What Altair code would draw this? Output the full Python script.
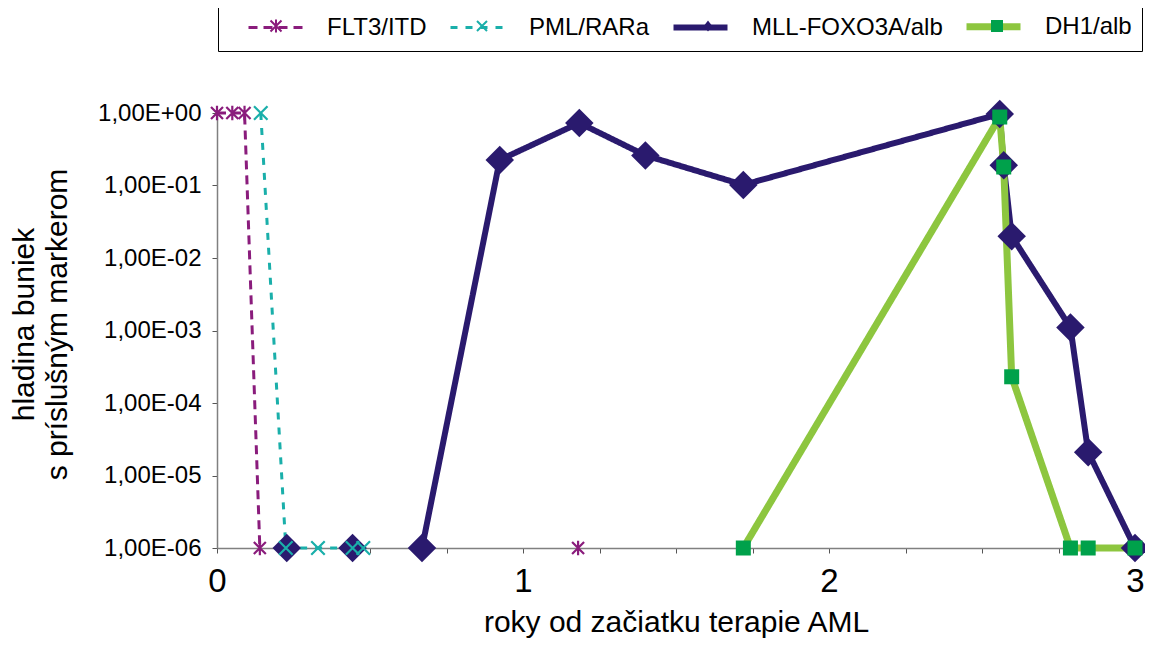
import altair as alt
import pandas as pd

series_names = ["FLT3/ITD", "PML/RARa", "MLL-FOXO3A/alb", "DH1/alb"]
line_colors = ["#8a1c7c", "#1aafaa", "#2a1a6e", "#8dc63f"]
marker_fill = ["transparent", "transparent", "#2a1a6e", "#00a14b"]
marker_stroke = ["#8a1c7c", "#1aafaa", "transparent", "transparent"]
marker_z = [3, 4, 1, 2]

# FLT3/ITD
flt3_x = [0.0, 0.05, 0.09, 0.14, 1.18]
flt3_y = [1.0, 1.0, 1.0, 1e-6, 1e-6]
flt3_seg = [0, 0, 0, 0, 1]

# PML/RARa
pml_x = [0.143, 0.225, 0.33, 0.443, 0.478]
pml_y = [1.0, 1e-6, 1e-6, 1e-6, 1e-6]
pml_seg = [0, 0, 0, 0, 0]

# MLL-FOXO3A/alb
mll_x = [0.228, 0.443, 0.67, 0.924, 1.184, 1.40, 1.72, 2.558, 2.571, 2.597, 2.789, 2.847, 3.0]
mll_y = [1e-6, 1e-6, 1e-6, 0.225, 0.73, 0.26, 0.102, 0.97, 0.19, 0.02, 1.1e-3, 2.1e-5, 1e-6]
mll_seg = [0, 1, 2, 2, 2, 2, 2, 2, 2, 2, 2, 2, 2]

# DH1/alb
dh1_x = [1.72, 2.558, 2.571, 2.597, 2.789, 2.847, 3.0]
dh1_y = [1e-6, 0.88, 0.18, 2.3e-4, 1e-6, 1e-6, 1e-6]
dh1_seg = [0, 0, 0, 0, 0, 0, 0]

y_ticks = [1e-6, 1e-5, 1e-4, 1e-3, 1e-2, 1e-1, 1.0]
x_ticks = [0, 0.25, 0.5, 0.75, 1, 1.25, 1.5, 1.75, 2, 2.25, 2.5, 2.75, 3]

rows = []
for i, (name, xs, ys, segs) in enumerate([
    (series_names[0], flt3_x, flt3_y, flt3_seg),
    (series_names[1], pml_x, pml_y, pml_seg),
    (series_names[2], mll_x, mll_y, mll_seg),
    (series_names[3], dh1_x, dh1_y, dh1_seg),
]):
    for xv, yv, sv in zip(xs, ys, segs):
        rows.append({"series": name, "marker": name,
                     "x": xv, "y": yv, "grp": f"{name}-{sv}", "z": marker_z[i]})
df = pd.DataFrame(rows)

FONT = "Liberation Sans"

x_enc = alt.X(
    "x:Q",
    scale=alt.Scale(domain=[0, 3], nice=False, zero=False),
    axis=alt.Axis(
        values=x_ticks,
        labelExpr="datum.value % 1 == 0 ? format(datum.value, 'd') : ''",
        labelFontSize=33,
        labelBaseline="alphabetic",
        labelPadding=38,
        labelFlush=False,
        labelOverlap=False,
        labelColor="black",
        tickSize=5,
        tickColor="#555555",
        domainColor="#808080",
        domainWidth=1.5,
        grid=False,
        title="roky od začiatku terapie AML",
        titleFontSize=30,
        titleFontWeight="normal",
        titleColor="black",
        titleX=459,
        titleY=83,
        titleAlign="center",
        titleBaseline="alphabetic",
    ),
)

y_enc = alt.Y(
    "y:Q",
    scale=alt.Scale(type="log", domain=[1e-6, 1], nice=False),
    axis=alt.Axis(
        values=y_ticks,
        labelExpr="datum.value >= 1 ? '1,00E+00' : '1,00E-0' + format(round(-log(datum.value) / LN10), 'd')",
        labelFontSize=24,
        labelPadding=11,
        labelOverlap=False,
        labelColor="black",
        tickSize=5,
        tickColor="#555555",
        domainColor="#808080",
        domainWidth=1.5,
        grid=False,
        title=["\u00a0" * 9 + "hladina buniek", "s príslušným markerom"],
        titleFontSize=30,
        titleFontWeight="normal",
        titleColor="black",
        titleX=-193,
        titleY=211,
        titleAngle=270,
        titleAlign="center",
        titleBaseline="middle",
        titleLineHeight=33,
    ),
)

line_legend = alt.Legend(
    title=None,
    orient="none",
    legendX=1,
    legendY=-109,
    direction="horizontal",
    columns=4,
    strokeColor="black",
    fillColor="white",
    padding=10,
    symbolOffset=35,
    symbolType="M-3,0L3,0",
    symbolSize=324,
    labelOffset=39,
    columnPadding=3,
    labelFontSize=24,
    labelLimit=400,
    labelColor="black",
)

lines = alt.Chart(df).mark_line(clip=False).encode(
    x=x_enc,
    y=y_enc,
    color=alt.Color(
        "series:N",
        scale=alt.Scale(domain=series_names, range=line_colors),
        legend=line_legend,
    ),
    strokeDash=alt.StrokeDash(
        "series:N",
        scale=alt.Scale(domain=series_names, range=[[9, 6], [7, 8], [1, 0], [1, 0]]),
        legend=line_legend,
    ),
    strokeWidth=alt.StrokeWidth(
        "series:N",
        scale=alt.Scale(type="ordinal", domain=series_names, range=[3, 3, 6, 7]),
        legend=line_legend,
    ),
    detail="grp:N",
)

# chart markers (size 900 -> path unit = 15 px)
asterisk = "M-0.4,-0.4L0.4,0.4M-0.4,0.4L0.4,-0.4M0,-0.48L0,0.48"
xshape = "M-0.45,-0.45L0.45,0.45M-0.45,0.45L0.45,-0.45"
diamond = "M0,-0.95L0.95,0L0,0.95L-0.95,0Z"
square = "M-0.5,-0.5L0.5,-0.5L0.5,0.5L-0.5,0.5Z"

markers = alt.Chart(df).mark_point(size=900, strokeWidth=2.2, opacity=1).encode(
    x=x_enc,
    y=y_enc,
    shape=alt.Shape(
        "marker:N",
        scale=alt.Scale(domain=series_names, range=[asterisk, xshape, diamond, square]),
        legend=None,
    ),
    fill=alt.Fill(
        "marker:N",
        scale=alt.Scale(domain=series_names, range=marker_fill),
        legend=None,
    ),
    stroke=alt.Stroke(
        "marker:N",
        scale=alt.Scale(domain=series_names, range=marker_stroke),
        legend=None,
    ),
    order=alt.Order("z:Q"),
)

# small legend markers drawn over the middle of each legend line (size 400 -> path unit = 10 px)
legend_shapes = [
    "M-0.55,-0.55L0.55,0.55M-0.55,0.55L0.55,-0.55M0,-0.65L0,0.65",
    "M-0.5,-0.5L0.5,0.5M-0.5,0.5L0.5,-0.5",
    "M0,-0.55L0.42,0L0,0.55L-0.42,0Z",
    "M-0.6,-0.6L0.6,-0.6L0.6,0.6L-0.6,0.6Z",
]
legend_filled = [False, False, True, True]
legend_marker_colors = ["#8a1c7c", "#1aafaa", "#2a1a6e", "#00a14b"]
legend_marker_x = [47, 253, 479, 768]

legend_layers = []
for i, name in enumerate(series_names):
    leg = alt.Legend(
        title=None,
        orient="none",
        legendX=legend_marker_x[i],
        legendY=-99,
        padding=0,
        symbolOffset=0,
        symbolSize=400,
        symbolStrokeWidth=2,
        symbolOpacity=1,
        labelFontSize=24,
        labelExpr="''",
    )
    layer = alt.Chart(df).transform_filter("false").mark_point(
        size=400, strokeWidth=2, opacity=1,
        filled=legend_filled[i], color=legend_marker_colors[i],
    ).encode(
        x=x_enc,
        y=y_enc,
        shape=alt.Shape(
            "series:N",
            scale=alt.Scale(domain=[name], range=[legend_shapes[i]]),
            legend=leg,
        ),
    )
    legend_layers.append(layer)

chart = alt.layer(lines, markers, *legend_layers).resolve_scale(
    shape="independent"
).properties(
    width=918,
    height=435,
    autosize=alt.AutoSizeParams(type="none"),
    padding={"left": 209, "top": 105, "right": 10, "bottom": 90},
).configure(font=FONT).configure_view(stroke=None)

chart.save("out.html", embed_options={"renderer": "svg", "actions": False})
